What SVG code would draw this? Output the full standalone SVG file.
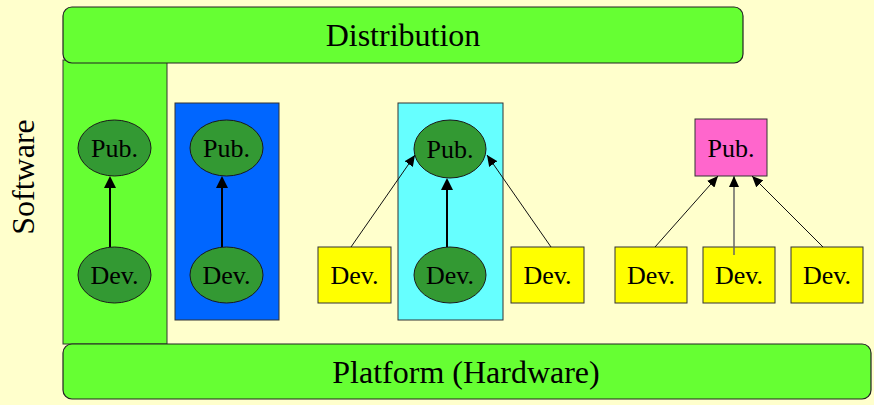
<svg xmlns="http://www.w3.org/2000/svg" width="874" height="405" viewBox="0 0 874 405">
<style>
.bar{fill:#66ff33;stroke:#222;stroke-width:1.2}
.col{fill:#66ff33;stroke:#333;stroke-width:1}
.ell{fill:#339933;stroke:#1a1a1a;stroke-width:1}
.dev{fill:#ffff00;stroke:#333;stroke-width:1}
.pub{fill:#ff66cc;stroke:#333;stroke-width:1}
.t{font-family:"Liberation Serif","Times New Roman",serif;fill:#000}
.lbl{font-size:26px;text-anchor:middle}
.big{font-size:32px;text-anchor:middle}
.thick{stroke:#000;stroke-width:2;fill:none;marker-end:url(#ah)}
.thin{stroke:#111;stroke-width:1;fill:none;marker-end:url(#as)}
</style>
<defs>
<marker id="ah" markerUnits="userSpaceOnUse" markerWidth="12" markerHeight="12" refX="8" refY="6" orient="auto">
<path d="M0,0 L12,6 L0,12 z" fill="#000"/>
</marker>
<marker id="as" markerUnits="userSpaceOnUse" markerWidth="11" markerHeight="10" refX="11" refY="5" orient="auto">
<path d="M0,0 L11,5 L0,10 z" fill="#000"/>
</marker>
</defs>
<rect width="874" height="405" fill="#ffffcc"/>
<g id="software-column">
<rect class="col" x="63" y="60" width="104" height="284"/>
</g>
<g id="distribution">
<rect class="bar" x="63" y="7" width="680" height="56" rx="9"/>
<text class="t big" x="403" y="46">Distribution</text>
</g>
<g id="platform">
<rect class="bar" x="63" y="344" width="808" height="55" rx="9"/>
<text class="t big" x="466" y="383">Platform (Hardware)</text>
</g>
<g id="software-label">
<text class="t big" transform="translate(34,177) rotate(-90)" x="0" y="0">Software</text>
</g>
<g id="blue-box"><rect x="175" y="103" width="104" height="217" fill="#0066ff" stroke="#333" stroke-width="1"/></g>
<g id="cyan-box"><rect x="398" y="103" width="105" height="217" fill="#66ffff" stroke="#333" stroke-width="1"/></g>
<g id="pub1"><ellipse class="ell" cx="114.5" cy="148" rx="36.5" ry="28"/><text class="t lbl" x="114.5" y="157">Pub.</text></g>
<g id="dev1"><ellipse class="ell" cx="114.5" cy="275" rx="36.5" ry="28"/><text class="t lbl" x="114.5" y="284">Dev.</text></g>
<g id="pub2"><ellipse class="ell" cx="226.5" cy="148" rx="36.5" ry="28"/><text class="t lbl" x="226.5" y="157">Pub.</text></g>
<g id="dev2"><ellipse class="ell" cx="226.5" cy="275" rx="36.5" ry="28"/><text class="t lbl" x="226.5" y="284">Dev.</text></g>
<g id="pub3"><ellipse class="ell" cx="450" cy="149" rx="36" ry="29"/><text class="t lbl" x="450" y="158">Pub.</text></g>
<g id="dev3"><ellipse class="ell" cx="450" cy="275" rx="36" ry="28"/><text class="t lbl" x="450" y="284">Dev.</text></g>
<g id="dev3a"><rect class="dev" x="318" y="247" width="73" height="56"/><text class="t lbl" x="354.5" y="284">Dev.</text></g>
<g id="dev3b"><rect class="dev" x="511" y="247" width="73" height="56"/><text class="t lbl" x="547.5" y="284">Dev.</text></g>
<g id="pub4"><rect class="pub" x="695" y="119" width="72" height="57"/><text class="t lbl" x="731" y="157">Pub.</text></g>
<g id="dev4a"><rect class="dev" x="615" y="247" width="72" height="56"/><text class="t lbl" x="651" y="284">Dev.</text></g>
<g id="dev4b"><rect class="dev" x="703" y="247" width="72" height="56"/><text class="t lbl" x="739" y="284">Dev.</text></g>
<g id="dev4c"><rect class="dev" x="791" y="247" width="72" height="56"/><text class="t lbl" x="827" y="284">Dev.</text></g>
<g id="connectors">
<line class="thick" x1="110" y1="247" x2="110" y2="180"/>
<line class="thick" x1="222" y1="247" x2="222" y2="180"/>
<line class="thick" x1="447" y1="247" x2="447" y2="182"/>
<line class="thin" x1="351" y1="247" x2="415" y2="155"/>
<line class="thin" x1="551" y1="247" x2="487" y2="155"/>
<line class="thin" x1="655" y1="247" x2="718" y2="176"/>
<line class="thin" x1="734" y1="255" x2="734" y2="176" style="stroke:#666;stroke-width:1.5"/>
<line class="thin" x1="823" y1="247" x2="752" y2="176"/>
</g>
</svg>
